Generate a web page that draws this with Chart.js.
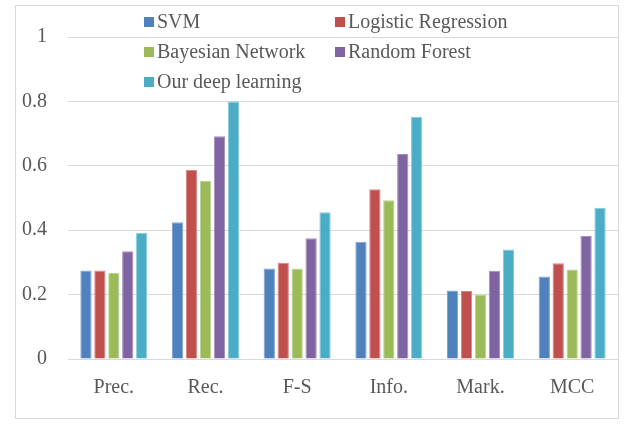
<!DOCTYPE html>
<html>
<head>
<meta charset="utf-8">
<script src="https://cdn.jsdelivr.net/npm/chart.js@4/dist/chart.umd.min.js"></script>
<style>
  html, body { margin: 0; padding: 0; background: #fff; }
  #wrap { width: 626px; height: 427px; position: relative; }
</style>
</head>
<body>
<div id="wrap"><canvas id="chart" width="626" height="427"></canvas></div>
<script>
// categories (metrics) and the values
const metrics = ['Prec.', 'Rec.', 'F-S', 'Info.', 'Mark.', 'MCC'];
const methods = ['SVM', 'Logistic Regression', 'Bayesian Network', 'Random Forest', 'Our deep learning'];
const svm      = [0.275, 0.425, 0.281, 0.364, 0.213, 0.256];
const logistic = [0.275, 0.587, 0.299, 0.527, 0.211, 0.297];
const bayesian = [0.267, 0.553, 0.281, 0.493, 0.200, 0.278];
const forest   = [0.335, 0.692, 0.375, 0.637, 0.274, 0.382];
const deep     = [0.392, 0.800, 0.456, 0.752, 0.340, 0.470];
const yTicks   = [0, 0.2, 0.4, 0.6, 0.8, 1];

const colors  = ['#4F81BD', '#C0504D', '#9BBB59', '#8064A2', '#4BACC6'];
const borders = ['#7fa3d0', '#d68583', '#bcd290', '#a28fbd', '#86cadb'];
const series  = [svm, logistic, bayesian, forest, deep];

const textColor = '#595959';
const fontFam = '"Liberation Serif", "Times New Roman", serif';

// cadre gris autour de tout le graphique
const frame = {
  id: 'frame',
  beforeDraw(chart) {
    const c = chart.ctx;
    c.save();
    c.fillStyle = '#fff';
    c.fillRect(0, 0, chart.width, chart.height);
    c.strokeStyle = '#d9d9d9';
    c.lineWidth = 1;
    c.strokeRect(15.5, 5.5, 603, 413);
    c.restore();
  }
};

// legend in two columns, as in the Excel original
const gridLegend = {
  id: 'gridLegend',
  afterDraw(chart) {
    const c = chart.ctx;
    const cols = [144, 335];
    const rows = [22, 52, 82];
    c.save();
    c.font = '20px ' + fontFam;
    c.textBaseline = 'middle';
    c.textAlign = 'left';
    chart.data.datasets.forEach((ds, i) => {
      const x = cols[i % 2];
      const y = rows[Math.floor(i / 2)];
      c.fillStyle = ds.backgroundColor;
      c.fillRect(x, y - 5, 10, 10);
      c.fillStyle = textColor;
      c.fillText(ds.label, x + 13, y + 1);
    });
    c.restore();
  }
};

new Chart(document.getElementById('chart'), {
  type: 'bar',
  data: {
    labels: metrics,
    datasets: methods.map((m, i) => ({
      label: m,
      data: series[i],
      backgroundColor: colors[i],
      borderColor: borders[i],
      borderWidth: 1,
      categoryPercentage: 0.76,
      barPercentage: 0.81
    }))
  },
  options: {
    responsive: false,
    animation: false,
    layout: { padding: { top: 37, right: 8, bottom: 0, left: 0 } },
    plugins: {
      legend: { display: false },
      tooltip: { enabled: false }
    },
    scales: {
      x: {
        grid: { display: false, drawTicks: false },
        border: { display: false },
        ticks: {
          color: textColor,
          font: { family: fontFam, size: 20 },
          padding: 17
        },
        afterFit(scale) { scale.height = 68; }
      },
      y: {
        min: 0,
        max: 1,
        afterBuildTicks(scale) { scale.ticks = yTicks.map(v => ({ value: v })); },
        grid: { color: '#d9d9d9', lineWidth: 1, drawTicks: false },
        border: { display: false },
        ticks: {
          color: textColor,
          font: { family: fontFam, size: 20 },
          padding: 21,
          callback: v => String(v)
        },
        afterFit(scale) { scale.width = 68; }
      }
    }
  },
  plugins: [frame, gridLegend]
});
</script>
</body>
</html>
